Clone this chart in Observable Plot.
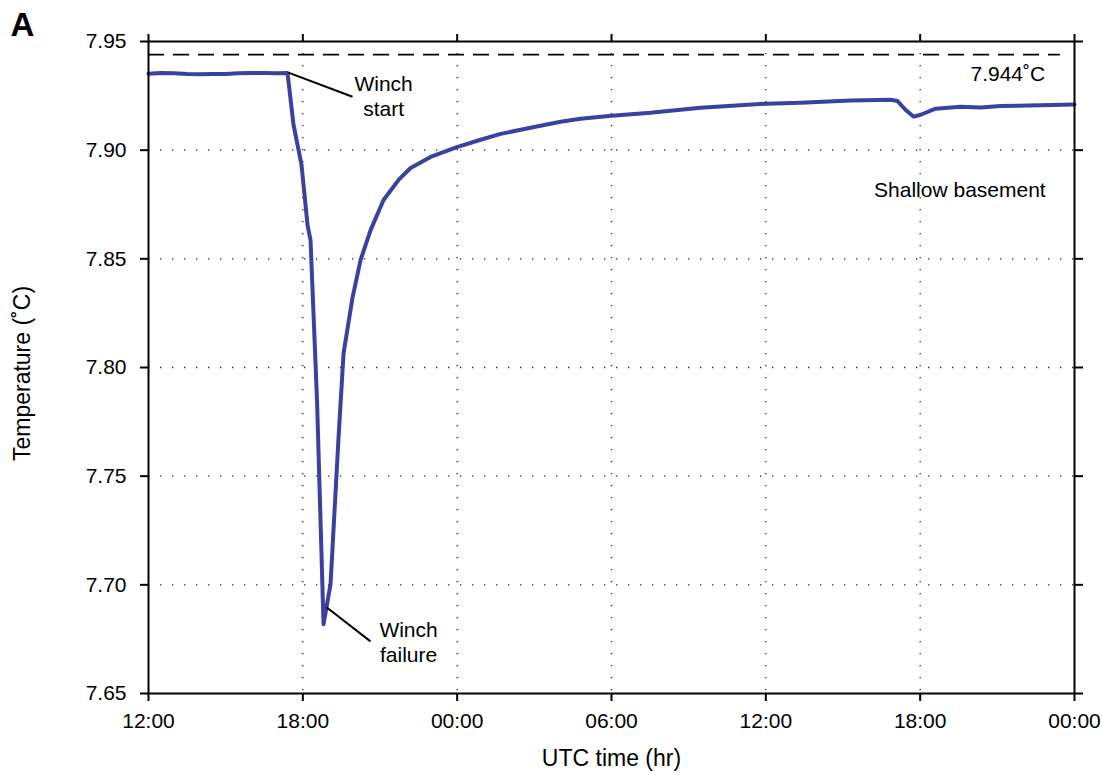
<!DOCTYPE html>
<html>
<head>
<meta charset="utf-8">
<script src="https://cdn.jsdelivr.net/npm/d3@7"></script>
<script src="https://cdn.jsdelivr.net/npm/@observablehq/plot@0.6"></script>
<style>
  html, body { margin: 0; padding: 0; background: #fff; }
</style>
</head>
<body>
<div id="chart"></div>
<script>
// Hours since 12:00 UTC on the first day
const hours = [0, 0.5, 1.0, 1.5, 2.0, 2.5, 3.0, 3.5, 4.0, 4.5, 5.0, 5.405,
  5.638, 5.949, 6.183, 6.299, 6.552, 6.805, 7.077, 7.388, 7.583, 7.933, 8.244,
  8.633, 9.138, 9.721, 10.188, 10.966, 12.016, 12.91, 13.69, 14.47, 15.24,
  16.02, 16.80, 18.00, 19.52, 21.46, 24.03, 25.35, 27.30, 28.85, 29.12, 29.43,
  29.75, 30.02, 30.60, 31.57, 32.35, 33.13, 34.69, 36.0];
const temps = [7.9352, 7.9355, 7.9354, 7.9350, 7.9349, 7.9350, 7.9351, 7.9354, 7.9355, 7.9355, 7.9354, 7.9355,
  7.9117, 7.8932, 7.8655, 7.8586, 7.7848, 7.6819, 7.7003, 7.7677, 7.8065, 7.8323, 7.8494,
  7.8632, 7.8771, 7.8863, 7.8918, 7.8969, 7.9015, 7.9048, 7.9075, 7.9094, 7.9112,
  7.9131, 7.9145, 7.9158, 7.9172, 7.9195, 7.9214, 7.9218, 7.9228, 7.9232, 7.9226, 7.9186,
  7.9154, 7.9163, 7.9191, 7.9200, 7.9196, 7.9203, 7.9207, 7.9210];

const xTicks = [0, 6, 12, 18, 24, 30, 36];
const xTickLabels = ["12:00", "18:00", "00:00", "06:00", "12:00", "18:00", "00:00"];
const yTicks = [7.65, 7.70, 7.75, 7.80, 7.85, 7.90, 7.95];

const refTemp = 7.944;
const refEnd = 35.45;
const refLabel = "7.944˚C";

const annoText = ["Winch\nstart", "Winch\nfailure"];
const annoX = [9.14, 10.11];
const annoY = [7.925, 7.674];

const leadX1 = [5.44, 6.92];
const leadY1 = [7.9357, 7.6897];
const leadX2 = [7.93, 8.63];
const leadY2 = [7.9246, 7.674];

const sideText = [refLabel, "Shallow basement"];
const sideX = [34.86, 34.88];
const sideY = [7.9348, 7.8817];

const xLabel = "UTC time (hr)";
const yLabel = "Temperature (˚C)";
const panelLabel = "A";

const series = hours.map((h, i) => ({h, t: temps[i]}));
const annos = annoText.map((text, i) => ({text, x: annoX[i], y: annoY[i]}));
const leaders = leadX1.map((x1, i) => ({x1, y1: leadY1[i], x2: leadX2[i], y2: leadY2[i]}));
const sides = sideText.map((text, i) => ({text, x: sideX[i], y: sideY[i]}));

const font = "'Liberation Sans', Arial, Helvetica, sans-serif";
const gridStyle = {stroke: "#222", strokeOpacity: 1, strokeWidth: 1.3, strokeDasharray: "1.3,10.7"};

const chart = Plot.plot({
  width: 1102,
  height: 775,
  marginLeft: 148,
  marginRight: 28,
  marginTop: 41,
  marginBottom: 82,
  style: {fontFamily: font, fontSize: "21px", color: "#000", background: "#fff", overflow: "visible"},
  x: {domain: [0, 36]},
  y: {domain: [7.65, 7.95]},
  marks: [
    Plot.gridX(xTicks.slice(1, -1), gridStyle),
    Plot.gridY(yTicks.slice(1, -1), gridStyle),
    Plot.ruleY([refTemp], {x1: 0, x2: refEnd, stroke: "#000", strokeWidth: 1.8, strokeDasharray: "16,9"}),
    Plot.line(series, {x: "h", y: "t", stroke: "#3a42a0", strokeWidth: 4, strokeLinejoin: "round", strokeLinecap: "round"}),
    Plot.link(leaders, {x1: "x1", y1: "y1", x2: "x2", y2: "y2", stroke: "#000", strokeWidth: 2}),
    Plot.text(annos, {x: "x", y: "y", text: "text", fontSize: 21, lineHeight: 1.2, fill: "#000"}),
    Plot.text(sides, {x: "x", y: "y", text: "text", fontSize: 21, textAnchor: "end", fill: "#000"}),
    Plot.frame({stroke: "#000", strokeWidth: 2}),
    Plot.axisX(xTicks, {anchor: "bottom", tickSize: 8, tickPadding: 12, strokeWidth: 2, fontSize: 21,
      tickFormat: d => xTickLabels[xTicks.indexOf(d)], label: null}),
    Plot.axisX(xTicks, {anchor: "top", tickSize: 8, strokeWidth: 2, tickFormat: () => "", label: null}),
    Plot.axisY(yTicks, {anchor: "left", tickSize: 8, tickPadding: 14, strokeWidth: 2, fontSize: 21,
      tickFormat: d3.format(".2f"), label: null}),
    Plot.axisY(yTicks, {anchor: "right", tickSize: 8, strokeWidth: 2, tickFormat: () => "", label: null}),
    Plot.text([xLabel], {frameAnchor: "bottom", dy: 65, textAnchor: "middle", lineAnchor: "middle", fontSize: 23, fill: "#000"}),
    Plot.text([yLabel], {frameAnchor: "left", dx: -126, dy: 6, rotate: -90, textAnchor: "middle", lineAnchor: "middle", fontSize: 23, fill: "#000"}),
    Plot.text([panelLabel], {frameAnchor: "top-left", dx: -126, dy: -16, textAnchor: "middle", lineAnchor: "middle", fontSize: 33, fontWeight: "bold", fill: "#000"})
  ]
});
document.getElementById("chart").appendChild(chart);
</script>
</body>
</html>
